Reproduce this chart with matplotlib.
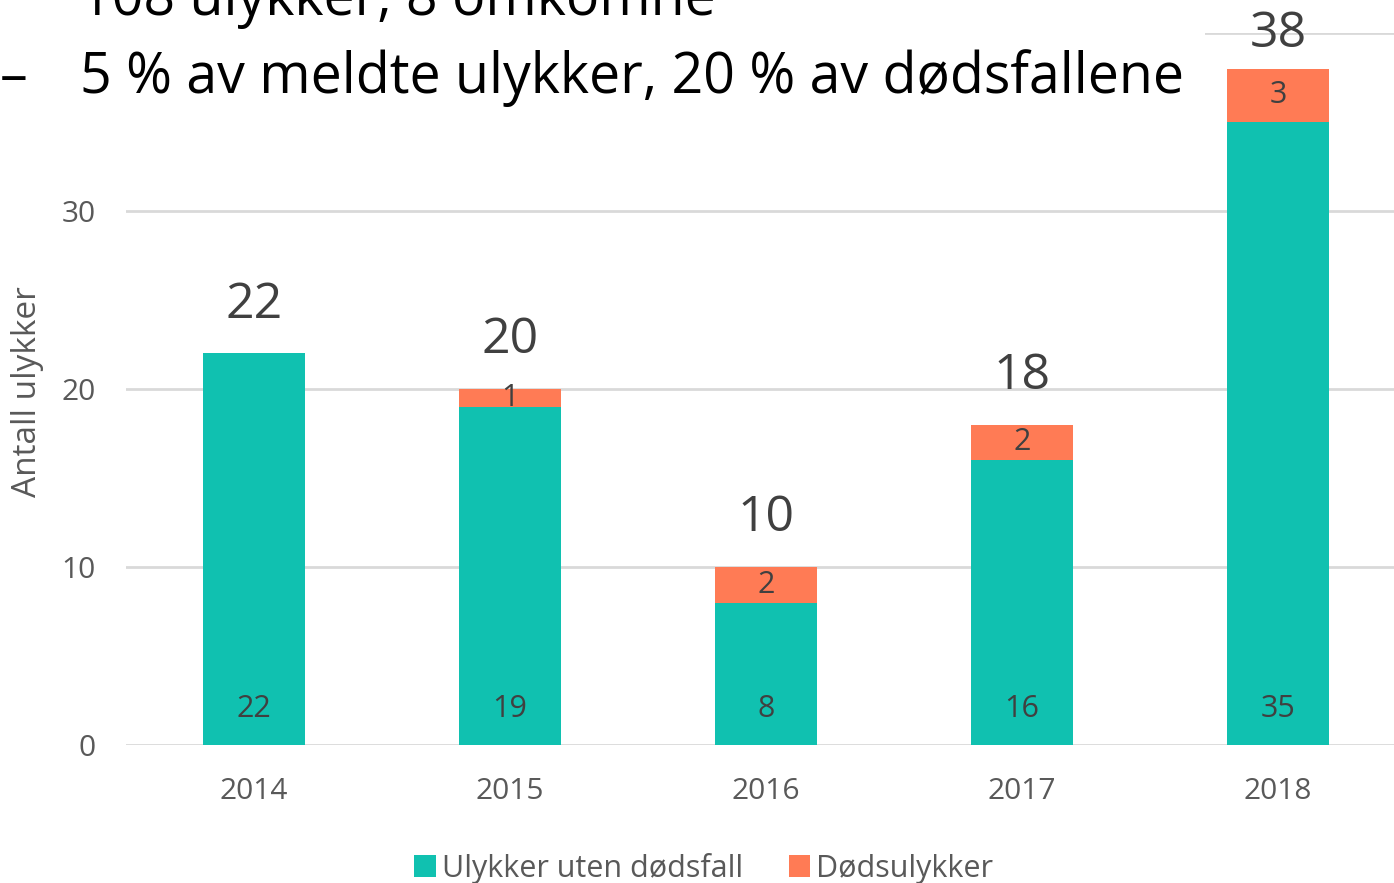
import matplotlib
matplotlib.use('Agg')
import matplotlib.pyplot as plt
from matplotlib.patches import Rectangle
import numpy as np

# data
years = ['2014', '2015', '2016', '2017', '2018']
uten_dodsfall = [22, 19, 8, 16, 35]
dodsulykker = [0, 1, 2, 2, 3]
totals = [a + b for a, b in zip(uten_dodsfall, dodsulykker)]
yticks = [0, 10, 20, 30, 40]
top_lines = ['108 ulykker, 8 omkomne', '5 % av meldte ulykker, 20 % av dødsfallene']

TEAL = '#10C1B0'
ORANGE = '#FF7B55'
GRID = '#D9D9D9'

plt.rcParams['font.family'] = ['Open Sans', 'DejaVu Sans']

fig = plt.figure(figsize=(13.94, 8.83), dpi=100)
ax = fig.add_axes([126/1394, 1-745/883, 1280/1394, (745-33)/883])

x = np.arange(len(years))
w = 0.4
b1 = ax.bar(x, uten_dodsfall, w, color=TEAL, label='Ulykker uten dødsfall', zorder=2)
b2 = ax.bar(x, dodsulykker, w, bottom=uten_dodsfall, color=ORANGE, label='Dødsulykker', zorder=2)

ax.set_xlim(-0.5, 4.5)
ax.set_ylim(0, 40)
ax.set_yticks(yticks[:-1])
ax.set_xticks(x)
ax.set_xticklabels(years)
ax.tick_params(length=0, labelsize=21.5, colors='#595959')
ax.tick_params(axis='y', pad=22)
ax.tick_params(axis='x', pad=23)
for s in ax.spines.values():
    s.set_visible(False)
for t in yticks:
    ax.axhline(t, color=GRID, lw=2, zorder=1)

# labels inside the bars
for i in range(len(years)):
    ax.annotate(str(uten_dodsfall[i]), (x[i], 0), xytext=(0, 26), textcoords='offset points',
                ha='center', va='center', fontsize=22, color='#404040', zorder=3)
    if dodsulykker[i] > 0:
        ax.text(x[i], uten_dodsfall[i] + dodsulykker[i]/2.0, str(dodsulykker[i]),
                ha='center', va='center', fontsize=22, color='#404040', zorder=3)
    off = 35 if i < 4 else 25
    ax.annotate(str(totals[i]), (x[i], totals[i]), xytext=(0, off), textcoords='offset points',
                ha='center', va='center', fontsize=36, color='#404040', zorder=3)

fig.text(28/1394, 1-392/883, 'Antall ulykker', rotation=90, ha='center', va='center',
         fontsize=24, color='#595959')

leg = fig.legend(handles=[b1, b2], loc='center', bbox_to_anchor=(0.505, 1-868/883), ncol=2,
                 frameon=False, fontsize=22, handlelength=0.7, handleheight=0.7,
                 handletextpad=0.2, columnspacing=1.5, labelcolor='#595959')

# text from the slide lying over the top of the chart
fig.patches.append(Rectangle((0, 1-105/883), 1205/1394, 105/883, transform=fig.transFigure,
                             facecolor='white', edgecolor='none', zorder=5))
tf = ['Liberation Sans Narrow', 'Open Sans']
fig.text(80/1394, 1-15/883, top_lines[0], ha='left', va='baseline', fontsize=40,
         family=tf, color='black', zorder=6)
fig.text(80/1394, 1-93/883, top_lines[1], ha='left', va='baseline', fontsize=40,
         family=tf, color='black', zorder=6)
fig.text(0, 1-7/883, '–', ha='left', va='baseline', fontsize=40, family=tf, zorder=6)
fig.text(0, 1-93/883, '–', ha='left', va='baseline', fontsize=40, family=tf, zorder=6)

fig.savefig('out.png', dpi=100)
